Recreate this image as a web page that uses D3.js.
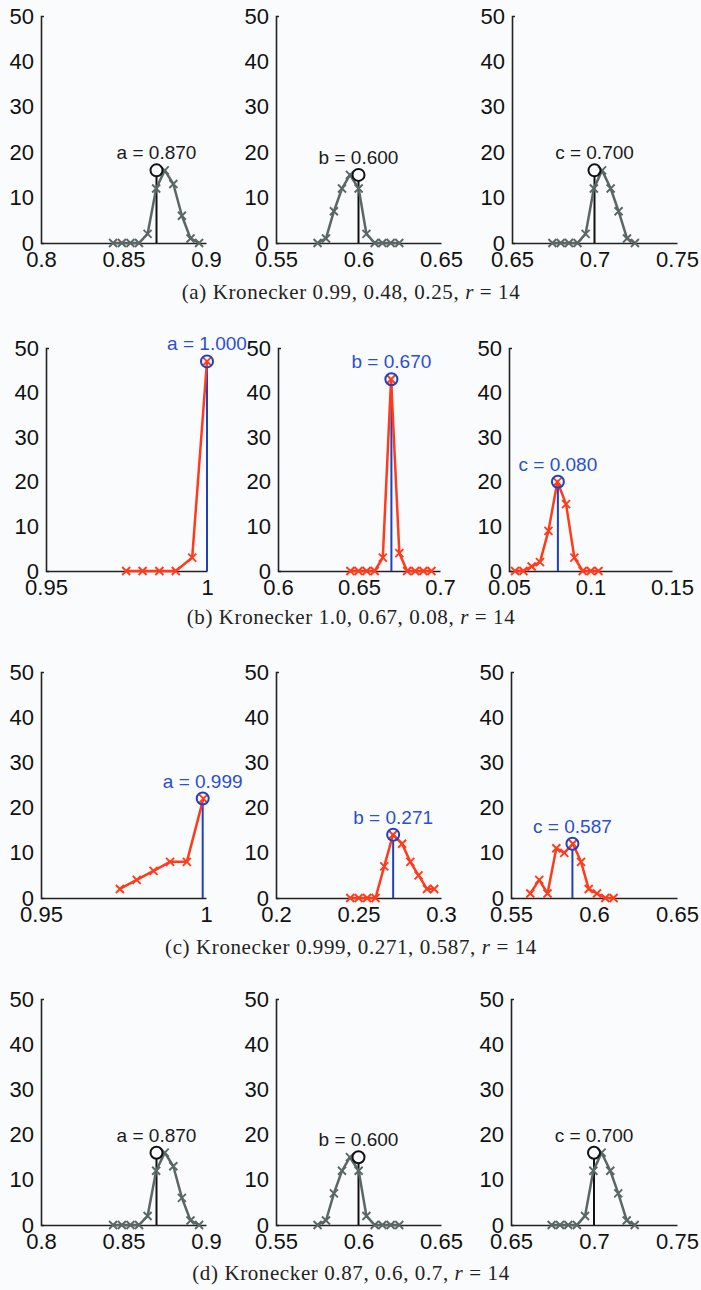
<!DOCTYPE html>
<html>
<head>
<meta charset="utf-8">
<script src="https://cdn.jsdelivr.net/npm/d3@7"></script>
<style>
  body { margin: 0; background: #fafbfc; }
  .tick text { font-family: "Liberation Sans", Arial, sans-serif; font-size: 22px; fill: #111; }
  .caption { font-family: "Liberation Serif", "Times New Roman", serif; font-size: 21px; fill: #222; letter-spacing: 0.6px; }
</style>
</head>
<body>
<div id="chart-area"></div>
<script>
// values

const names = ["a", "b", "c"];
const yTicks = [0, 10, 20, 30, 40, 50];

// row (a) and (d): same three histograms
const aParams = [0.870, 0.600, 0.700];
const aPeaks = [16, 15, 16];
const aDomains = [[0.8, 0.9], [0.55, 0.65], [0.65, 0.75]];
const aTicks = [[0.8, 0.85, 0.9], [0.55, 0.6, 0.65], [0.65, 0.7, 0.75]];
const aBins = [
  [0.8437, 0.849, 0.8542, 0.8594, 0.8646, 0.8698, 0.875, 0.8802, 0.8854, 0.8906, 0.8958],
  [0.5752, 0.5803, 0.5851, 0.590, 0.5948, 0.6001, 0.6048, 0.6098, 0.6145, 0.6195, 0.6247],
  [0.6745, 0.6795, 0.6845, 0.6897, 0.6946, 0.6996, 0.7046, 0.7098, 0.7146, 0.7197, 0.7245]
];
const aCounts = [
  [0, 0, 0, 0, 2, 12, 16, 13, 6, 1, 0],
  [0, 1, 7, 12, 15, 12, 2, 0, 0, 0, 0],
  [0, 0, 0, 0, 2, 12, 16, 12, 7, 1, 0]
];

// row (b)
const bParams = [1.000, 0.670, 0.080];
const bPeaks = [47, 43, 20];
const bDomains = [[0.95, 1.0], [0.6, 0.7], [0.05, 0.15]];
const bTicks = [[0.95, 1], [0.6, 0.65, 0.7], [0.05, 0.1, 0.15]];
const bBins = [
  [0.9749, 0.980, 0.9852, 0.9903, 0.9954, 1.0],
  [0.6447, 0.6497, 0.6547, 0.6597, 0.6647, 0.6698, 0.6749, 0.6797, 0.6847, 0.6897, 0.6947],
  [0.0537, 0.0588, 0.0639, 0.069, 0.0742, 0.0797, 0.085, 0.0901, 0.0952, 0.1002, 0.1049]
];
const bCounts = [
  [0, 0, 0, 0, 3, 47],
  [0, 0, 0, 0, 3, 43, 4, 0, 0, 0, 0],
  [0, 0, 1, 2, 9, 20, 15, 3, 0, 0, 0]
];

// row (c)
const cParams = [0.999, 0.271, 0.587];
const cPeaks = [22, 14, 12];
const cDomains = [[0.95, 1.0], [0.2, 0.3], [0.55, 0.65]];
const cTicks = [[0.95, 1], [0.2, 0.25, 0.3], [0.55, 0.6, 0.65]];
const cBins = [
  [0.9739, 0.979, 0.9841, 0.9891, 0.9942, 0.9992],
  [0.245, 0.2501, 0.2552, 0.2603, 0.2656, 0.2709, 0.2764, 0.2814, 0.2864, 0.2915, 0.2959],
  [0.5616, 0.567, 0.572, 0.5773, 0.5821, 0.5873, 0.5922, 0.5968, 0.6018, 0.6068, 0.6118]
];
const cCounts = [
  [2, 4, 6, 8, 8, 22],
  [0, 0, 0, 0, 7, 14, 12, 8, 5, 2, 2],
  [1, 4, 1, 11, 10, 12, 8, 2, 1, 0, 0]
];

const captions = [
  ["(a) Kronecker 0.99, 0.48, 0.25, ", "r", " = 14"],
  ["(b) Kronecker 1.0, 0.67, 0.08, ", "r", " = 14"],
  ["(c) Kronecker 0.999, 0.271, 0.587, ", "r", " = 14"],
  ["(d) Kronecker 0.87, 0.6, 0.7, ", "r", " = 14"]
];

// layout (pixels)
const rowTop = [16, 348, 672, 999];
const rowZero = [243, 571, 898, 1225];
const rowLeft = [[41, 276, 512], [46, 278, 509], [41, 276, 511], [41, 276, 511]];
const rowRight = [[206, 441, 677], [207, 440, 672], [206, 441, 677], [206, 441, 677]];
const captionY = [299, 624, 954, 1280];

const grayStyle = { line: "#5b6767", mark: "#5b6767", ref: "#111", label: "#1a1a1a" };
const redStyle = { line: "#ff3b1c", mark: "#ff3b1c", ref: "#2040c0", label: "#2a4fd0" };

const rows = [
  { params: aParams, peaks: aPeaks, domains: aDomains, ticks: aTicks, bins: aBins, counts: aCounts, style: grayStyle },
  { params: bParams, peaks: bPeaks, domains: bDomains, ticks: bTicks, bins: bBins, counts: bCounts, style: redStyle },
  { params: cParams, peaks: cPeaks, domains: cDomains, ticks: cTicks, bins: cBins, counts: cCounts, style: redStyle },
  { params: aParams, peaks: aPeaks, domains: aDomains, ticks: aTicks, bins: aBins, counts: aCounts, style: grayStyle }
];

const svg = d3.select("#chart-area").append("svg")
  .attr("width", 701)
  .attr("height", 1290)
  .style("background", "#fafbfc");

rows.forEach((row, r) => {
  for (let p = 0; p < 3; p++) {
    const x = d3.scaleLinear().domain(row.domains[p]).range([rowLeft[r][p], rowRight[r][p]]);
    const y = d3.scaleLinear().domain([0, 50]).range([rowZero[r], rowTop[r]]);
    const g = svg.append("g");

    // axes
    const yAxis = g.append("g")
      .attr("transform", "translate(" + rowLeft[r][p] + ",0)")
      .call(d3.axisLeft(y).tickValues(yTicks).tickSizeInner(0).tickSizeOuter(-3).tickPadding(7));
    const xAxis = g.append("g")
      .attr("transform", "translate(0," + rowZero[r] + ")")
      .call(d3.axisBottom(x).tickValues(row.ticks[p]).tickFormat(d => String(d))
        .tickSizeInner(0).tickSizeOuter(0).tickPadding(8));
    [yAxis, xAxis].forEach(a => a.select(".domain").attr("stroke", "#222").attr("stroke-width", 1.6));

    const pts = row.bins[p].map((b, i) => [b, row.counts[p][i]]);

    // reference line to the true value
    g.append("line")
      .attr("x1", x(row.params[p])).attr("x2", x(row.params[p]))
      .attr("y1", y(0)).attr("y2", y(row.peaks[p]) + 6)
      .attr("stroke", row.style.ref)
      .attr("stroke-width", 2);

    // histogram line
    g.append("path")
      .datum(pts)
      .attr("fill", "none")
      .attr("stroke", row.style.line)
      .attr("stroke-width", 2.5)
      .attr("stroke-linejoin", "round")
      .attr("d", d3.line().x(d => x(d[0])).y(d => y(d[1])));

    // x markers
    const s = 4;
    g.selectAll(".mk")
      .data(pts)
      .enter()
      .append("path")
      .attr("class", "mk")
      .attr("fill", "none")
      .attr("stroke", row.style.mark)
      .attr("stroke-width", 1.9)
      .attr("d", d => {
        const cx = x(d[0]), cy = y(d[1]);
        return "M" + (cx - s) + "," + (cy - s) + "L" + (cx + s) + "," + (cy + s) +
               "M" + (cx - s) + "," + (cy + s) + "L" + (cx + s) + "," + (cy - s);
      });

    // circle at the true value
    g.append("circle")
      .attr("cx", x(row.params[p]))
      .attr("cy", y(row.peaks[p]))
      .attr("r", 6)
      .attr("fill", "none")
      .attr("stroke", row.style.ref)
      .attr("stroke-width", 2);

    g.append("text")
      .attr("x", x(row.params[p]))
      .attr("y", y(row.peaks[p]) - 11)
      .attr("text-anchor", "middle")
      .style("font-family", "'Liberation Sans', Arial, sans-serif")
      .style("font-size", "19px")
      .attr("fill", row.style.label)
      .text(names[p] + " = " + row.params[p].toFixed(3));
  }

  const cap = svg.append("text")
    .attr("class", "caption")
    .attr("x", 351)
    .attr("y", captionY[r])
    .attr("text-anchor", "middle");
  cap.append("tspan").text(captions[r][0]);
  cap.append("tspan").style("font-style", "italic").text(captions[r][1]);
  cap.append("tspan").text(captions[r][2]);
});
</script>
</body>
</html>
